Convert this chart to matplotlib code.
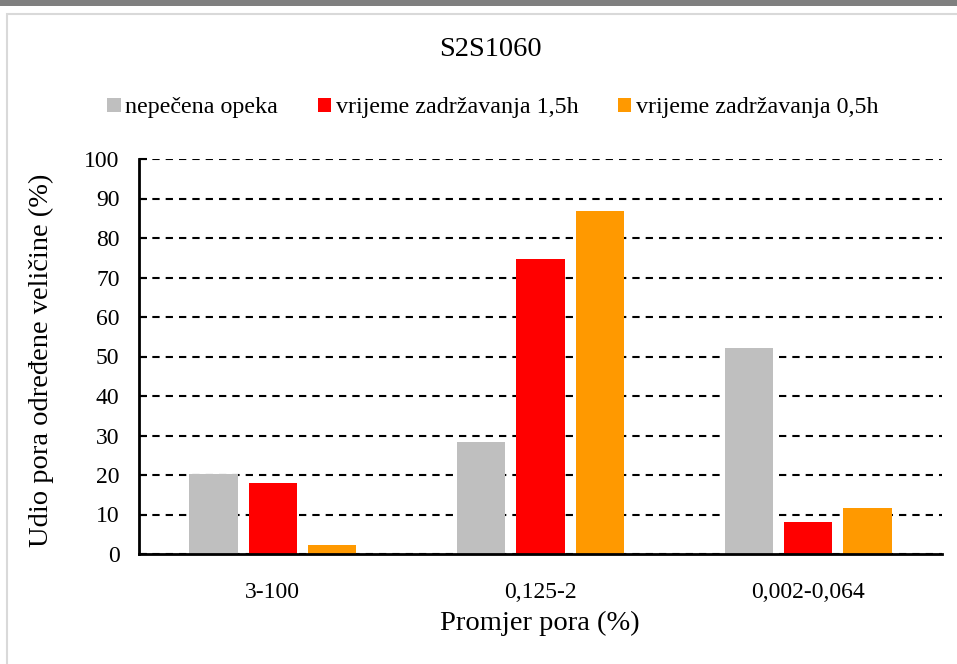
import matplotlib
matplotlib.use("Agg")
import matplotlib.pyplot as plt
from matplotlib.patches import Rectangle
import numpy as np

plt.rcParams['font.family'] = ['Liberation Serif', 'DejaVu Serif']

categories = ["3-100", "0,125-2", "0,002-0,064"]
series_names = ["nepečena opeka", "vrijeme zadržavanja 1,5h", "vrijeme zadržavanja 0,5h"]
nepecena = [20.2, 28.4, 52.1]
zadrz_15h = [18.0, 74.7, 8.0]
zadrz_05h = [2.4, 86.8, 11.6]
colors = ["#bfbfbf", "#ff0000", "#ff9900"]
y_ticks = [0, 10, 20, 30, 40, 50, 60, 70, 80, 90, 100]

W, H = 957, 664
fig = plt.figure(figsize=(W / 100, H / 100), dpi=100)
fig.patch.set_facecolor("white")

# window-style top band and chart area border
fig.patches.append(Rectangle((0, 1 - 6 / H), 1, 6 / H, transform=fig.transFigure,
                             facecolor="#7f7f7f", edgecolor="none", zorder=0))
fig.patches.append(Rectangle((7 / W, -0.05), 1.1, 1 - 13.5 / H + 0.05, transform=fig.transFigure,
                             facecolor="none", edgecolor="#d9d9d9", linewidth=1.5, zorder=0))

ax = fig.add_axes([139 / W, 110 / H, (942 - 139) / W, (554 - 159) / H])
x = np.arange(len(categories))
width = 0.181
step = 0.222
all_series = [nepecena, zadrz_15h, zadrz_05h]
for i, (vals, name, c) in enumerate(zip(all_series, series_names, colors)):
    ax.bar(x + (i - 1) * step, vals, width=width, color=c, label=name, zorder=3)

ax.set_xlim(-0.5, 2.5)
ax.set_ylim(0, 100)
ax.set_yticks(y_ticks)
ax.set_xticks(x)
ax.set_xticklabels(categories)
ax.tick_params(axis="y", direction="in", length=6, width=1.5, labelsize=17, pad=14)
ax.tick_params(axis="x", length=0, labelsize=17, pad=20)

ax.yaxis.grid(True, color="black", linewidth=1.5, linestyle=(0, (3.5, 2.9)), zorder=1)
ax.set_axisbelow(True)
for side in ["top", "right"]:
    ax.spines[side].set_visible(False)
for side in ["left", "bottom"]:
    ax.spines[side].set_linewidth(2)
    ax.spines[side].set_zorder(4)

fig.text(490 / W, 1 - 50 / H, "S2S1060", fontsize=20.5, ha="center", va="center")
fig.text(540 / W, 1 - 623 / H, "Promjer pora (%)", fontsize=20.5, ha="center", va="center")
fig.text(41 / W, 1 - 360 / H, "Udio pora određene veličine (%)", fontsize=20.5,
         ha="center", va="center", rotation=90)

fig.legend(loc="center", bbox_to_anchor=(493 / W, 1 - 108 / H), ncol=3, frameon=False,
           fontsize=17.3, handlelength=0.55, handleheight=0.55, handletextpad=0.2,
           columnspacing=1.65, borderpad=0, borderaxespad=0)

fig.savefig("out.png", dpi=100)
